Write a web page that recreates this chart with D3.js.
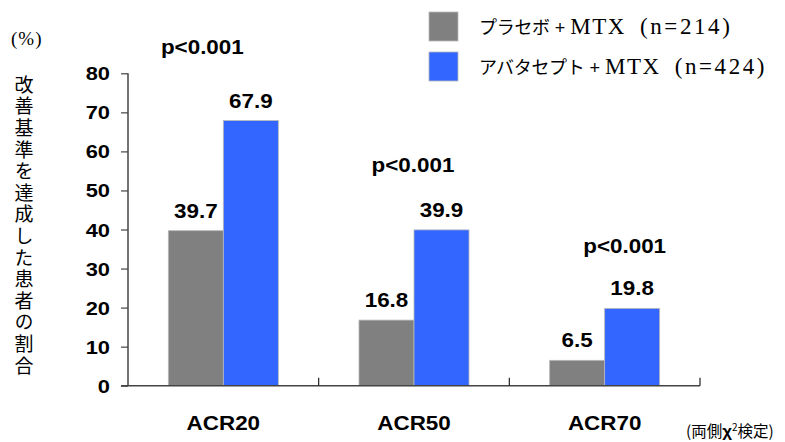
<!DOCTYPE html>
<html>
<head>
<meta charset="utf-8">
<script src="https://cdn.jsdelivr.net/npm/d3@7/dist/d3.min.js"></script>
<style>
  html, body { margin: 0; padding: 0; background: #fff; }
  svg { display: block; }
</style>
</head>
<body>
<svg id="chart" width="785" height="442"></svg>
<script>
// ACR response rates (%) by treatment arm
const categories = ["ACR20", "ACR50", "ACR70"];
const seriesNames = ["プラセボ", "アバタセプト"];
const seriesSuffix = ["MTX (n=214)", "MTX (n=424)"];
const placeboValues = [39.7, 16.8, 6.5];
const abataceptValues = [67.9, 39.9, 19.8];
const pValues = ["p<0.001", "p<0.001", "p<0.001"];
const yTicks = [0, 10, 20, 30, 40, 50, 60, 70, 80];
const yLabel = "改善基準を達成した患者の割合";

const colors = ["#808080", "#3366ff"];
const boldFont = "'Liberation Sans', Arial, sans-serif";
const jpFont = "'Noto Sans CJK JP', sans-serif";
const serifFont = "'Liberation Serif', 'Times New Roman', serif";
const stretch = 1.15;

const svg = d3.select("#chart");

const x0 = d3.scaleBand().domain(categories).range([128, 700]).paddingInner(0).paddingOuter(0);
const x1 = d3.scaleBand().domain(seriesNames).range([0, x0.bandwidth()]).paddingInner(0).paddingOuter(0.733);
const y = d3.scaleLinear().domain([0, 80]).range([385.7, 73.3]);

const rows = categories.map((c, i) => ({
  cat: c,
  vals: [placeboValues[i], abataceptValues[i]],
  p: pValues[i]
}));

// Bold, slightly widened label
function wideText(parent, x, yPos, txt, size, anchor) {
  parent.append("text")
    .attr("transform", `translate(${x},${yPos}) scale(${stretch},1)`)
    .attr("text-anchor", anchor || "middle")
    .attr("font-family", boldFont)
    .attr("font-weight", "bold")
    .attr("font-size", size)
    .attr("fill", "#000")
    .text(txt);
}

// Bars
const groups = svg.selectAll("g.grp").data(rows).enter().append("g")
  .attr("class", "grp")
  .attr("transform", d => `translate(${x0(d.cat)},0)`);

groups.selectAll("rect").data(d => d.vals.map((v, k) => ({ v, k }))).enter().append("rect")
  .attr("x", d => x1(seriesNames[d.k]))
  .attr("y", d => y(d.v))
  .attr("width", x1.bandwidth())
  .attr("height", d => y(0) - y(d.v))
  .attr("fill", d => colors[d.k])
  .attr("stroke", "#b8b8b8")
  .attr("stroke-width", 0.8);

// Value labels
groups.each(function (d) {
  const g = d3.select(this);
  d.vals.forEach((v, k) => {
    wideText(g, x1(seriesNames[k]) + x1.bandwidth() / 2, y(v) - 13, v.toFixed(1), 19.5);
  });
});

// Significance labels above each group
const pLift = [67, 58, 55];
const pShift = [-21, -1, 20];
groups.each(function (d, i) {
  const top = y(d3.max(d.vals));
  wideText(d3.select(this), x0.bandwidth() / 2 + pShift[i], top - pLift[i], d.p, 19.5);
});

// Y axis
const yAxis = d3.axisLeft(y).tickValues(yTicks).tickSize(7).tickFormat("");
const yg = svg.append("g").attr("transform", "translate(128,0)").call(yAxis);
yg.select(".domain").attr("stroke", "#444").attr("stroke-width", 1.5).attr("d", `M0,${y(80)}V${y(0)}`);
yg.selectAll(".tick line").attr("stroke", "#444").attr("stroke-width", 1.2);
yTicks.forEach(t => wideText(svg, 110, y(t) + 7, String(t), 19, "end"));

// X axis with inward boundary ticks
const bounds = [0, 1, 2, 3].map(i => 128 + i * x0.step());
svg.append("line")
  .attr("x1", 121).attr("x2", bounds[3])
  .attr("y1", y(0)).attr("y2", y(0))
  .attr("stroke", "#444").attr("stroke-width", 1.5);
svg.selectAll("line.xt").data(bounds.slice(1)).enter().append("line")
  .attr("class", "xt")
  .attr("x1", d => d).attr("x2", d => d)
  .attr("y1", y(0)).attr("y2", y(0) - 8)
  .attr("stroke", "#222").attr("stroke-width", 1.2);

categories.forEach(c => wideText(svg, x0(c) + x0.bandwidth() / 2, 430, c, 19.5));

// Axis title, set vertically
svg.append("text")
  .attr("x", 11).attr("y", 45)
  .attr("font-family", serifFont)
  .attr("font-size", 19)
  .attr("letter-spacing", 1)
  .text("(%)");
svg.append("text")
  .attr("x", 24).attr("y", 75)
  .attr("font-family", jpFont)
  .attr("font-size", 19)
  .attr("letter-spacing", 2.6)
  .attr("fill", "#000")
  .style("writing-mode", "vertical-rl")
  .style("text-orientation", "upright")
  .text(yLabel);

// Legend
seriesNames.forEach((name, k) => {
  const ly = 12 + k * 40;
  svg.append("rect")
    .attr("x", 429).attr("y", ly).attr("width", 29).attr("height", 29)
    .attr("fill", colors[k]).attr("stroke", "#b8b8b8").attr("stroke-width", 0.8);
  const t = svg.append("text")
    .attr("x", 479).attr("y", ly + 22)
    .attr("fill", "#000");
  t.append("tspan").attr("font-family", jpFont).attr("font-size", 18).attr("letter-spacing", -0.3).text(name);
  t.append("tspan").attr("font-family", boldFont).attr("font-size", 18).attr("dx", 5).text("+");
  const parts = seriesSuffix[k].split(" ");
  t.append("tspan").attr("font-family", serifFont).attr("font-size", 23).attr("dx", 5)
    .attr("letter-spacing", 1.5).text(parts[0]);
  t.append("tspan").attr("font-family", serifFont).attr("font-size", 23).attr("dx", 14)
    .attr("letter-spacing", 2.6).text(parts[1]);
});

// Test note
const note = svg.append("text")
  .attr("x", 686).attr("y", 437)
  .attr("font-family", jpFont)
  .attr("font-size", 15.5)
  .attr("fill", "#000");
note.append("tspan").text("(両側");
note.append("tspan").attr("font-family", boldFont).attr("font-weight", "bold").attr("font-size", 17).text("χ");
note.append("tspan").attr("font-size", 10).attr("dy", -6).text("2");
note.append("tspan").attr("dy", 6).text("検定)");
</script>
</body>
</html>
